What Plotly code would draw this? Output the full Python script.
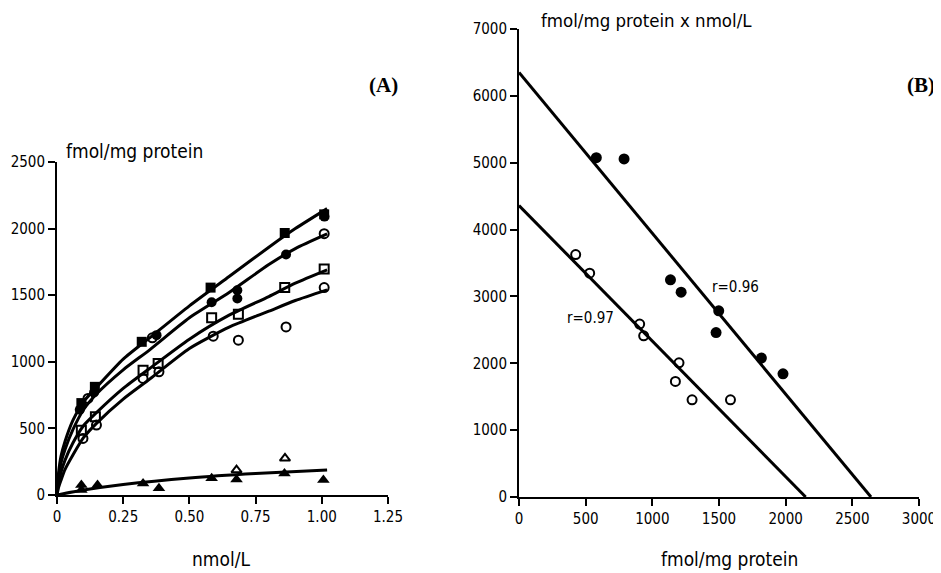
import plotly.graph_objects as go

# ---------------- Panel A data ----------------
fsq_x = [0.092, 0.143, 0.32, 0.58, 0.86, 1.009]
fsq_y = [690, 812, 1150, 1557, 1967, 2107]
fci_x = [0.086, 0.14, 0.376, 0.584, 0.681, 0.681, 0.865, 1.01]
fci_y = [640, 770, 1200, 1447, 1537, 1475, 1805, 2090]
oci_top_x = [0.117, 0.36, 1.009]
oci_top_y = [725, 1180, 1962]
osq_x = [0.092, 0.145, 0.325, 0.382, 0.584, 0.685, 0.86, 1.009]
osq_y = [487, 587, 937, 988, 1330, 1357, 1557, 1697]
oci_x = [0.098, 0.149, 0.325, 0.385, 0.590, 0.685, 0.865, 1.009]
oci_y = [425, 525, 875, 925, 1192, 1162, 1262, 1557]
ftr_x = [0.092, 0.092, 0.153, 0.325, 0.385, 0.584, 0.678, 0.859, 1.006]
ftr_y = [75, 37, 75, 87, 50, 125, 117, 162, 112]
otr_x = [0.678, 0.861]
otr_y = [187, 275]

curve_x = [0, 0.005, 0.015, 0.03, 0.06, 0.1, 0.15, 0.25, 0.35, 0.5, 0.65, 0.8, 0.9, 1.02]
curve1 = [0, 150, 290, 400, 560, 700, 810, 1020, 1180, 1420, 1640, 1860, 2000, 2150]
curve2 = [0, 120, 240, 340, 490, 640, 760, 940, 1090, 1330, 1520, 1730, 1850, 1960]
curve3 = [0, 80, 170, 260, 390, 520, 620, 800, 950, 1170, 1350, 1490, 1590, 1690]
curve4 = [0, 50, 110, 190, 300, 430, 540, 720, 870, 1100, 1260, 1380, 1460, 1540]
tri_cx = [0, 0.1, 0.25, 0.5, 0.75, 1.02]
tri_cy = [0, 37, 79, 128, 161, 187]

a_xticks = [0, 0.25, 0.5, 0.75, 1.0, 1.25]
a_xlabels = ["0", "0.25", "0.50", "0.75", "1.00", "1.25"]
a_yticks = [0, 500, 1000, 1500, 2000, 2500]

# ---------------- Panel B data ----------------
bf_x = [580, 788, 1136, 1216, 1498, 1478, 1818, 1980]
bf_y = [5076, 5057, 3248, 3064, 2785, 2460, 2078, 1843]
bo_x = [425, 530, 905, 935, 1200, 1173, 1298, 1586]
bo_y = [3626, 3348, 2586, 2411, 2007, 1728, 1454, 1454]
bf_line_x = [0, 2640]
bf_line_y = [6350, 0]
bo_line_x = [0, 2150]
bo_line_y = [4360, 0]
b_xticks = [0, 500, 1000, 1500, 2000, 2500, 3000]
b_yticks = [0, 1000, 2000, 3000, 4000, 5000, 6000, 7000]

# page body has an 8px margin: figure is drawn 8px right/down
OFF = 8
W, H = 941 - OFF, 573 - OFF
FONT = "DejaVu Sans Condensed, Liberation Sans Narrow, Liberation Sans, Arial, sans-serif"
SERIF = "Liberation Serif, Times New Roman, serif"

def fx(px):
    return (px - OFF) / W

def fy(py):
    return (H - (py - OFF)) / H

fig = go.Figure()

def line(x, y, xa, ya, shape="linear"):
    fig.add_trace(go.Scatter(x=x, y=y, mode="lines", xaxis=xa, yaxis=ya,
                             line=dict(color="black", width=3, shape=shape, smoothing=0.6),
                             showlegend=False, hoverinfo="skip"))

def pts(x, y, sym, size, xa, ya):
    open_ = sym.endswith("open")
    fig.add_trace(go.Scatter(x=x, y=y, mode="markers", xaxis=xa, yaxis=ya,
                             marker=dict(symbol=sym, size=size, color="black",
                                         line=dict(color="black", width=2 if open_ else 0)),
                             showlegend=False, cliponaxis=False))

for c in (curve1, curve2, curve3, curve4):
    line(curve_x, c, "x", "y", "spline")
line(tri_cx, tri_cy, "x", "y", "spline")

pts(fsq_x, fsq_y, "square", 10, "x", "y")
pts(fci_x, fci_y, "circle", 10, "x", "y")
pts(oci_top_x, oci_top_y, "circle-open", 9, "x", "y")
pts(osq_x, osq_y, "square-open", 9, "x", "y")
pts(oci_x, oci_y, "circle-open", 9, "x", "y")
pts(ftr_x, ftr_y, "triangle-up", 11, "x", "y")
pts(otr_x, otr_y, "triangle-up-open", 9, "x", "y")

line(bf_line_x, bf_line_y, "x2", "y2")
line(bo_line_x, bo_line_y, "x2", "y2")
pts(bf_x, bf_y, "circle", 11, "x2", "y2")
pts(bo_x, bo_y, "circle-open", 9, "x2", "y2")

ax_common = dict(showgrid=False, zeroline=False, showline=True, linecolor="black",
                 linewidth=2, ticks="outside", ticklen=7, tickwidth=1.5,
                 tickcolor="black", automargin=False,
                 tickfont=dict(family=FONT, size=15, color="black"))

fig.update_layout(
    width=W, height=H,
    margin=dict(l=0, r=0, t=0, b=0),
    paper_bgcolor="white", plot_bgcolor="white",
    font=dict(family=FONT, color="black"),
    xaxis=dict(domain=[fx(57), fx(388)], range=[0, 1.25], anchor="y",
               tickvals=a_xticks, ticktext=a_xlabels, **ax_common),
    yaxis=dict(domain=[fy(495), fy(162)], range=[0, 2500], anchor="x",
               tickvals=a_yticks, **ax_common),
    xaxis2=dict(domain=[fx(519), fx(919)], range=[0, 3000], anchor="y2",
                tickvals=b_xticks, **ax_common),
    yaxis2=dict(domain=[fy(497), fy(29)], range=[0, 7000], anchor="x2",
                tickvals=b_yticks, **ax_common),
)

def txt(x, y, s, size=15, fam=FONT, bold=False, xref="paper", yref="paper"):
    if xref == "paper":
        x = fx(x)
        y = fy(y)
    fig.add_annotation(x=x, y=y, xref=xref, yref=yref, text=("<b>%s</b>" % s) if bold else s,
                       showarrow=False, font=dict(family=fam, size=size, color="black"),
                       xanchor="center", yanchor="middle")

txt(135, 151, "fmol/mg protein", 19)
txt(221, 559, "nmol/L", 19)
txt(383, 85, "(A)", 21, SERIF, True)
txt(646, 20, "fmol/mg protein x nmol/L", 18.5)
txt(729, 559, "fmol/mg protein", 19)
txt(921, 85, "(B)", 21, SERIF, True)
txt(1625, 3139, "r=0.96", 15, xref="x2", yref="y2")
txt(535, 2675, "r=0.97", 15, xref="x2", yref="y2")

fig.write_html("out.html")
